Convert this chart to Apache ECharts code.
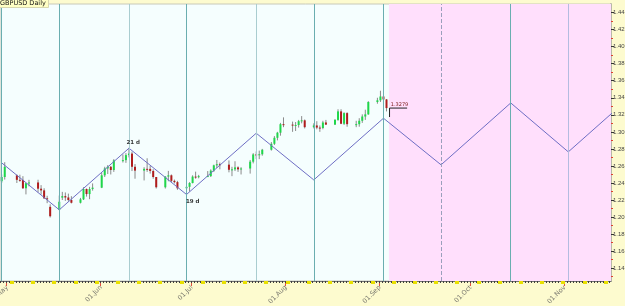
<!DOCTYPE html>
<html><head><meta charset="utf-8">
<script src="https://cdn.jsdelivr.net/npm/echarts@6/dist/echarts.min.js"></script>
<style>html,body{margin:0;padding:0;background:#fdfbcf;overflow:hidden}#c{width:625px;height:306px}</style>
</head><body><div id="c"></div>
<script>
// ---- data ----
const dates = ['2020-04-29','2020-04-30',
 '2020-05-04','2020-05-05','2020-05-06','2020-05-07','2020-05-08',
 '2020-05-11','2020-05-12','2020-05-13','2020-05-14','2020-05-15',
 '2020-05-18','2020-05-19','2020-05-20','2020-05-21','2020-05-22',
 '2020-05-25','2020-05-26','2020-05-27','2020-05-28','2020-05-29',
 '2020-06-01','2020-06-02','2020-06-03','2020-06-04','2020-06-05',
 '2020-06-08','2020-06-09','2020-06-10','2020-06-11','2020-06-12',
 '2020-06-15','2020-06-16','2020-06-17','2020-06-18','2020-06-19',
 '2020-06-22','2020-06-23','2020-06-24','2020-06-25','2020-06-26',
 '2020-06-29','2020-06-30','2020-07-01','2020-07-02','2020-07-03',
 '2020-07-06','2020-07-07','2020-07-08','2020-07-09','2020-07-10',
 '2020-07-13','2020-07-14','2020-07-15','2020-07-16','2020-07-17',
 '2020-07-20','2020-07-21','2020-07-22','2020-07-23','2020-07-24',
 '2020-07-27','2020-07-28','2020-07-29','2020-07-30','2020-07-31',
 '2020-08-03','2020-08-04','2020-08-05','2020-08-06','2020-08-07',
 '2020-08-10','2020-08-11','2020-08-12','2020-08-13','2020-08-14',
 '2020-08-17','2020-08-18','2020-08-19','2020-08-20','2020-08-21',
 '2020-08-24','2020-08-25','2020-08-26','2020-08-27','2020-08-28',
 '2020-08-31','2020-09-01','2020-09-02','2020-09-03'];
const opens = [1.2420,1.2470,
 1.2490,1.2437,1.2436,1.2338,1.2397,
 1.2406,1.2333,1.2313,1.2220,1.2120,
 1.2085,1.2228,1.2246,1.2230,1.2200,
 1.2168,1.2208,1.2330,1.2270,1.2330,
 1.2345,1.2490,1.2570,1.2590,1.2552,
 1.2665,1.2668,1.2727,1.2745,1.2590,
 1.2545,1.2566,1.2565,1.2541,1.2470,
 1.2350,1.2475,1.2490,1.2425,1.2410,
 1.2338,1.2355,1.2400,1.2475,1.2470,
 1.2480,1.2481,1.2545,1.2607,1.2620,
 1.2615,1.2555,1.2560,1.2583,1.2560,
 1.2570,1.2650,1.2735,1.2730,1.2737,
 1.2790,1.2860,1.2930,1.2990,1.3090,
 1.3085,1.3075,1.3080,1.3125,1.3135,
 1.3055,1.3075,1.3050,1.3045,1.3110,
 1.3085,1.3140,1.3240,1.3095,1.3220,
 1.3090,1.3090,1.3130,1.3180,1.3205,
 1.3350,1.3370,1.3415,1.3380];
const highs = [1.2500,1.2644,
 1.2500,1.2497,1.2480,1.2400,1.2437,
 1.2438,1.2375,1.2338,1.2250,1.2150,
 1.2253,1.2296,1.2289,1.2275,1.2245,
 1.2225,1.2350,1.2335,1.2355,1.2395,
 1.2520,1.2590,1.2610,1.2600,1.2680,
 1.2735,1.2750,1.2812,1.2768,1.2622,
 1.2585,1.2690,1.2600,1.2561,1.2470,
 1.2480,1.2542,1.2500,1.2440,1.2425,
 1.2360,1.2410,1.2490,1.2533,1.2495,
 1.2540,1.2560,1.2615,1.2670,1.2640,
 1.2665,1.2590,1.2655,1.2595,1.2585,
 1.2670,1.2750,1.2770,1.2780,1.2800,
 1.2880,1.2950,1.3000,1.3105,1.3170,
 1.3120,1.3115,1.3140,1.3185,1.3145,
 1.3100,1.3125,1.3075,1.3130,1.3140,
 1.3150,1.3265,1.3265,1.3230,1.3230,
 1.3130,1.3160,1.3205,1.3260,1.3360,
 1.3400,1.3482,1.3420,1.3385];
const lows = [1.2400,1.2440,
 1.2400,1.2415,1.2330,1.2266,1.2360,
 1.2290,1.2265,1.2213,1.2163,1.1995,
 1.2080,1.2200,1.2190,1.2180,1.2160,
 1.2160,1.2200,1.2240,1.2210,1.2310,
 1.2340,1.2470,1.2505,1.2500,1.2530,
 1.2640,1.2636,1.2700,1.2540,1.2450,
 1.2430,1.2530,1.2510,1.2450,1.2335,
 1.2335,1.2420,1.2410,1.2395,1.2320,
 1.2252,1.2300,1.2395,1.2450,1.2455,
 1.2470,1.2470,1.2530,1.2575,1.2560,
 1.2525,1.2480,1.2540,1.2530,1.2500,
 1.2510,1.2630,1.2680,1.2680,1.2720,
 1.2780,1.2845,1.2900,1.2955,1.3055,
 1.3000,1.3010,1.3050,1.3100,1.3040,
 1.3040,1.3030,1.3000,1.3030,1.3080,
 1.3080,1.3130,1.3090,1.3080,1.3060,
 1.3055,1.3060,1.3105,1.3140,1.3200,
 1.3330,1.3350,1.3320,1.3240];
const closes = [1.2470,1.2590,
 1.2437,1.2436,1.2338,1.2397,1.2406,
 1.2333,1.2313,1.2220,1.2213,1.2010,
 1.2180,1.2246,1.2230,1.2200,1.2168,
 1.2208,1.2330,1.2270,1.2330,1.2345,
 1.2490,1.2570,1.2590,1.2552,1.2665,
 1.2668,1.2727,1.2745,1.2590,1.2545,
 1.2566,1.2565,1.2541,1.2470,1.2350,
 1.2475,1.2490,1.2425,1.2410,1.2338,
 1.2355,1.2400,1.2475,1.2470,1.2480,
 1.2481,1.2545,1.2607,1.2620,1.2615,
 1.2555,1.2560,1.2583,1.2560,1.2570,
 1.2650,1.2735,1.2730,1.2737,1.2790,
 1.2860,1.2930,1.2990,1.3090,1.3085,
 1.3075,1.3080,1.3125,1.3135,1.3055,
 1.3075,1.3050,1.3045,1.3110,1.3085,
 1.3140,1.3240,1.3095,1.3220,1.3090,
 1.3090,1.3130,1.3180,1.3205,1.3350,
 1.3370,1.3415,1.3380,1.3279];

const cycleDates  = ['2020-04-29','2020-05-18','2020-06-10','2020-06-29','2020-07-22','2020-08-10','2020-09-02','2020-09-21','2020-10-14','2020-11-02','2020-11-25'];
const cycleValues = [1.2636,1.2085,1.2808,1.2265,1.2984,1.2436,1.3160,1.2613,1.3339,1.2765,1.3490];
const cycleLineStyles = ['dark','dark','light','dark','light','dark','dark','dashed','dark','lavender'];
const noteDates = ['2020-06-10','2020-06-29'];
const noteTexts = ['21 d','19 d'];
const noteAbove = [true,false];

const monthTickDates = ['2020-05-01','2020-06-01','2020-07-01','2020-08-01','2020-09-01','2020-10-01','2020-11-01'];
const monthTickLabels = ['01.May','01.Jun','01.Jul','01.Aug','01.Sep','01.Oct','01.Nov'];
const yTickLabels = [1.14,1.16,1.18,1.20,1.22,1.24,1.26,1.28,1.30,1.32,1.34,1.36,1.38,1.40,1.42,1.44];
const yMinorTicks = [1.13,1.15,1.17,1.19,1.21,1.23,1.25,1.27,1.29,1.31,1.33,1.35,1.37,1.39,1.41,1.43];
const chartTitle = 'GBPUSD Daily';

// ---- helpers ----
const ORIGIN = Date.UTC(2020,4,1);
function dayNum(s){const p=s.split('-').map(Number);return (Date.UTC(p[0],p[1]-1,p[2])-ORIGIN)/864e5;}
const BAR_OFF = 0.35;
const X_MIN = -2.211, X_MAX = 199.44, Y_MIN = 1.125, Y_MAX = 1.45;

const candleData = dates.map((d,i)=>[dayNum(d)+BAR_OFF, opens[i], closes[i], lows[i], highs[i]]);
const zigzag = cycleDates.map((d,i)=>[dayNum(d)+BAR_OFF, cycleValues[i]]);
const notes = noteDates.map((d,i)=>({value:[dayNum(d)+BAR_OFF, cycleValues[cycleDates.indexOf(d)]],
  label:{show:true,formatter:noteTexts[i],position:noteAbove[i]?[-2,-8]:[0,5],align:'left',verticalAlign:'top'}}));
const lineStyleMap = {
  dark:{color:'#6aaeb0',width:1,type:'solid'},
  light:{color:'#a9cdd0',width:1,type:'solid'},
  dashed:{color:'#9aa0bc',width:1,type:[4,2]},
  lavender:{color:'#b4bce0',width:1,type:'solid'}
};
const vLines = cycleLineStyles.map((s,i)=>({xAxis:dayNum(cycleDates[i])+BAR_OFF,lineStyle:lineStyleMap[s]}));
const lastIdx = dates.length-1;
const futureStart = dayNum(dates[lastIdx])+1+0.15;
const lastClose = closes[lastIdx];
const monthDays = monthTickDates.map(dayNum);
const monthLabelData = monthDays.map((d,i)=>({value:[d,Y_MIN],name:monthTickLabels[i]}));
const dailyTicks=[]; for(let d=-2; d<=199; d++) dailyTicks.push(d);
const weekTicks=[]; for(let d=1.65; d<=199; d+=7) weekTicks.push(d);

const chart = echarts.init(document.getElementById('c'), null, {renderer:'canvas'});
const F = 'DejaVu Sans';
const G = {left:0,right:14,top:4,bottom:25,containLabel:false,outerBoundsMode:'none'};
const hiddenY = (gi)=>({type:'value',gridIndex:gi,min:Y_MIN,max:Y_MAX,position:'right',axisLine:{show:false,onZero:false},splitLine:{show:false},axisLabel:{show:false},axisTick:{show:false}});
chart.setOption({
  animation:false,
  backgroundColor:'#fdfbcf',
  title:{text:chartTitle,left:-3,top:-2,padding:[2,3,1,3],backgroundColor:'#ffffc4',borderColor:'#d8d8b0',borderWidth:1,
    textStyle:{fontSize:6.5,fontWeight:'normal',color:'#111',fontFamily:F}},
  grid:[
    Object.assign({show:true,backgroundColor:'#f5fefe',borderColor:'#c8c8b8',borderWidth:1},G),
    Object.assign({show:false},G),
    Object.assign({show:false},G)
  ],
  xAxis:[
    {type:'value',gridIndex:0,min:X_MIN,max:X_MAX,position:'bottom',
     axisLine:{show:true,onZero:false,lineStyle:{color:'#707070',width:1}},
     splitLine:{show:false},
     axisTick:{show:true,customValues:monthDays,length:5,lineStyle:{color:'#e05040',width:1}},
     axisLabel:{show:false}},
    {type:'value',gridIndex:1,min:X_MIN,max:X_MAX,position:'bottom',
     axisLine:{show:false,onZero:false},splitLine:{show:false},axisLabel:{show:false},
     axisTick:{show:true,customValues:dailyTicks,length:2,lineStyle:{color:'#404040',width:1}}},
    {type:'value',gridIndex:2,min:X_MIN,max:X_MAX,position:'bottom',
     axisLine:{show:false,onZero:false},splitLine:{show:false},axisLabel:{show:false},
     axisTick:{show:true,customValues:weekTicks,length:3,lineStyle:{color:'#e8e000',width:4}}}
  ],
  yAxis:[
    {type:'value',gridIndex:0,min:Y_MIN,max:Y_MAX,position:'right',
     axisLine:{show:true,onZero:false,lineStyle:{color:'#b8b8a8',width:2}},
     splitLine:{show:false},
     axisTick:{show:true,customValues:yTickLabels,length:3,lineStyle:{color:'#333'}},
     axisLabel:{show:true,customValues:yTickLabels,margin:2,fontSize:6,color:'#444',fontFamily:'Liberation Sans',
       formatter:(v)=>v.toFixed(2)}},
    {type:'value',gridIndex:1,min:Y_MIN,max:Y_MAX,position:'right',
     axisLine:{show:false,onZero:false},splitLine:{show:false},axisLabel:{show:false},
     axisTick:{show:true,customValues:yMinorTicks,length:2,lineStyle:{color:'#e04030'}}},
    hiddenY(2)
  ],
  series:[
    {type:'line',data:[],z:0,silent:true,
     markArea:{silent:true,itemStyle:{color:'#ffdffc'},data:[[{xAxis:futureStart},{xAxis:X_MAX}]]}},
    {type:'line',data:[],z:1,silent:true,
     markLine:{silent:true,symbol:'none',label:{show:false},data:vLines}},
    {type:'custom',z:3,data:candleData,clip:true,
     renderItem:(params,api)=>{
       const x=api.value(0),o=api.value(1),c=api.value(2),l=api.value(3),h=api.value(4);
       const pH=api.coord([x,h]),pL=api.coord([x,l]),pO=api.coord([x,o]),pC=api.coord([x,c]);
       const up=c>=o;
       const top=Math.min(pO[1],pC[1]),bot=Math.max(pO[1],pC[1]);
       return {type:'group',children:[
         {type:'line',shape:{x1:pH[0],y1:pH[1],x2:pL[0],y2:pL[1]},style:{stroke:'#8a8a8a',lineWidth:1}},
         {type:'rect',shape:{x:pO[0]-1,y:top,width:2,height:Math.max(1,bot-top)},style:{fill:up?'#1ed84a':'#b01c1c'}}
       ]};
     }},
    {type:'line',z:4,data:zigzag,showSymbol:false,symbol:'none',lineStyle:{color:'#6e6ec4',width:1},clip:true},
    {type:'scatter',z:6,data:notes,symbolSize:1,itemStyle:{color:'rgba(0,0,0,0)'},
     label:{fontSize:5.5,fontWeight:'bold',color:'#000',fontFamily:F}},
    {type:'scatter',z:6,data:monthLabelData,symbolSize:1,clip:false,itemStyle:{color:'rgba(0,0,0,0)'},
     label:{show:true,formatter:(p)=>p.name,position:[1,6],rotate:45,align:'right',verticalAlign:'middle',
       fontSize:6.5,color:'#555',fontFamily:F}},
    {type:'line',z:5,data:[[futureStart+0.2,lastClose-0.0105],[futureStart+0.2,lastClose],[futureStart+6.0,lastClose]],symbol:'none',
     lineStyle:{color:'#222',width:1},
     markPoint:{symbol:'rect',symbolSize:0,data:[{coord:[futureStart+0.6,lastClose],
       label:{show:true,formatter:lastClose.toFixed(4),position:[0,0],align:'left',verticalAlign:'bottom',offset:[0,-1],fontSize:5,color:'#802020',fontFamily:F}}]}}
  ]
});
</script></body></html>
